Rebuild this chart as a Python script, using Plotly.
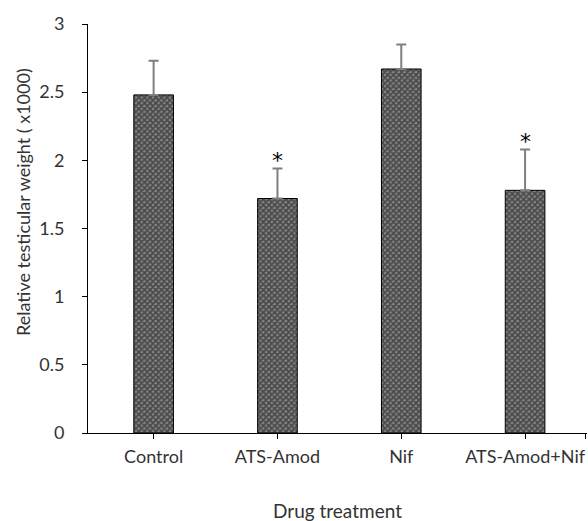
import plotly.graph_objects as go

categories = ["Control", "ATS-Amod", "Nif", "ATS-Amod+Nif"]
means = [2.48, 1.72, 2.67, 1.78]
errors = [0.25, 0.22, 0.18, 0.30]
stars = ["", "*", "", "*"]
y_ticks = [0, 0.5, 1, 1.5, 2, 2.5, 3]
y_tick_labels = ["0", "0.5", "1", "1.5", "2", "2.5", "3"]
x_title = "Drug treatment"
y_title = "Relative testicular weight ( x1000)"

font_family = "Lato, 'Open Sans', sans-serif"
text_color = "#333333"

fig = go.Figure()
fig.add_trace(go.Bar(
    x=categories, y=means, width=0.32,
    marker=dict(color="#858585",
                line=dict(color="#000000", width=1),
                pattern=dict(shape="x", fgcolor="#0a0a0a", bgcolor="#858585",
                             size=4, solidity=0.65)),
    error_y=dict(type="data", array=errors, arrayminus=[0]*len(errors),
                 symmetric=False, color="#7f7f7f", thickness=2, width=5),
    showlegend=False,
))

star_annotations = [
    dict(text=s, x=c, y=m + e, xref="x", yref="y", showarrow=False,
         xanchor="center", yanchor="middle", yshift=8,
         font=dict(size=22, color="#000000", family="DejaVu Sans"))
    for c, m, e, s in zip(categories, means, errors, stars) if s
]

fig.update_layout(
    width=588, height=521,
    margin=dict(l=88, r=1, t=24, b=88, autoexpand=False),
    paper_bgcolor="white", plot_bgcolor="white",
    font=dict(family=font_family, size=19, color=text_color),
    annotations=star_annotations + [
        dict(text=x_title, xref="paper", yref="paper", x=0.5, y=0,
             xanchor="center", yanchor="middle", yshift=-77, showarrow=False,
             font=dict(size=19, color=text_color, family=font_family)),
        dict(text=y_title, xref="paper", yref="paper", x=0, y=0.565,
             xanchor="center", yanchor="middle", xshift=-65, textangle=-90,
             showarrow=False,
             font=dict(size=18, color=text_color, family=font_family)),
    ],
)
fig.update_xaxes(
    range=[-0.53, 3.5], showline=True, linecolor="#000000", linewidth=1,
    ticks="outside", ticklen=5, tickcolor="#000000", showgrid=False,
    tickvals=[0, 1, 2, 3, 3.49], ticktext=categories + [""],
    tickfont=dict(size=18, color=text_color), ticklabelstandoff=2,
    automargin=False,
)
fig.update_yaxes(
    range=[0, 3], tickvals=y_ticks, ticktext=y_tick_labels,
    showline=True, linecolor="#000000", linewidth=1,
    ticks="outside", ticklen=5, tickcolor="#000000", showgrid=False,
    zeroline=False, tickfont=dict(size=18, color=text_color),
    ticklabelstandoff=14, automargin=False,
)

fig.write_html(
    "out.html",
    config={"displayModeBar": False},
    post_script="document.body.style.margin='0';document.body.style.overflow='hidden';",
)
